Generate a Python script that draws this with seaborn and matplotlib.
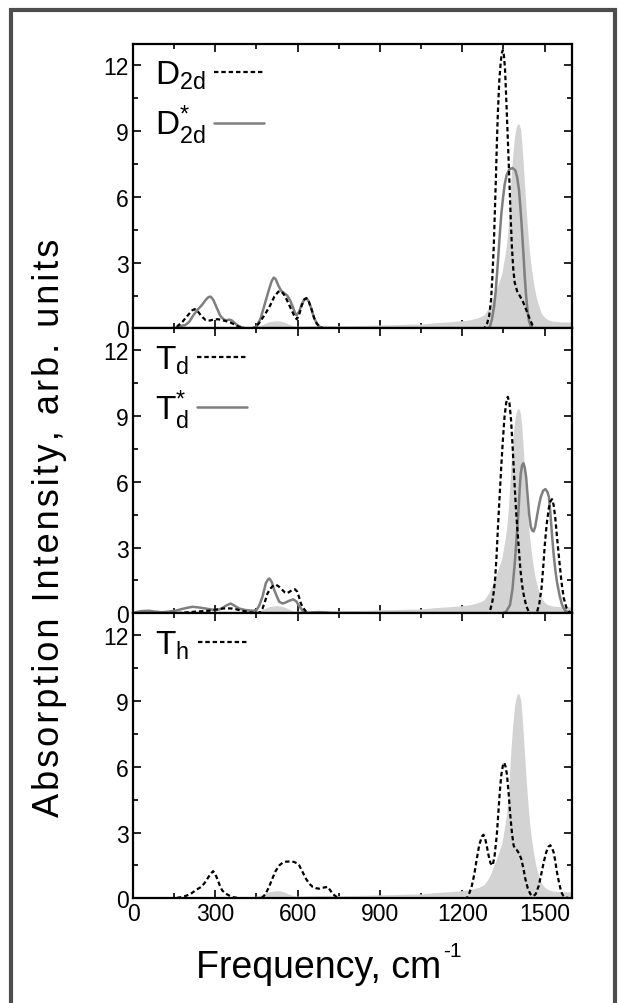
import numpy as np
import pandas as pd
import seaborn as sns
import matplotlib
matplotlib.use("Agg")
import matplotlib.pyplot as plt
from matplotlib.ticker import MultipleLocator
from matplotlib.patches import Rectangle

# ---------------- data ----------------
# experimental spectrum (grey filled), shared by all panels
exp_x = [0, 30, 100, 200, 300, 400, 440, 465, 480, 495, 510, 525, 540, 555, 570, 585, 600,
         650, 700, 750, 800, 850, 900, 950, 1000, 1050, 1100, 1150, 1200, 1230, 1260, 1280,
         1295, 1305, 1315, 1322, 1332, 1344, 1355, 1362, 1367, 1372, 1378, 1384, 1390, 1396,
         1402, 1408, 1413, 1417, 1421, 1427, 1433, 1439, 1445, 1451, 1457, 1463, 1469, 1478,
         1488, 1500, 1512, 1530, 1560, 1600]
exp_y = [0, 0.02, 0.03, 0.04, 0.05, 0.05, 0.07, 0.15, 0.22, 0.30, 0.33, 0.35, 0.33, 0.27, 0.18,
         0.12, 0.10, 0.12, 0.14, 0.12, 0.13, 0.14, 0.16, 0.17, 0.19, 0.20, 0.26, 0.30, 0.35,
         0.40, 0.50, 0.62, 0.90, 1.15, 1.50, 1.70, 2.05, 2.50, 3.30, 3.90, 4.60, 5.60, 6.90,
         7.90, 8.70, 9.15, 9.35, 9.30, 9.05, 8.50, 7.80, 6.60, 5.40, 4.40, 3.50, 2.85, 2.30,
         1.85, 1.45, 1.05, 0.70, 0.50, 0.40, 0.33, 0.30, 0.30]

# panel 1 : D2d (dashed) and D*2d (grey solid)
d2d_x = [0, 140, 160, 180, 200, 215, 225, 235, 250, 265, 280, 295, 310, 325, 340, 355, 370, 385,
         400, 430, 445, 460, 480, 500, 515, 530, 540, 550, 560, 570, 580, 590, 597, 605, 615,
         625, 632, 640, 650, 660, 670, 680, 690, 700, 1280, 1290, 1298, 1305, 1310, 1315, 1319,
         1323, 1326, 1330, 1335, 1340, 1344, 1348, 1352, 1356, 1360, 1364, 1368, 1373, 1377,
         1381, 1386, 1391, 1400, 1410, 1420, 1428, 1437, 1447, 1456, 1465, 1475, 1600]
d2d_y = [0, 0, 0.08, 0.30, 0.60, 0.82, 0.88, 0.80, 0.55, 0.38, 0.36, 0.41, 0.42, 0.38, 0.33, 0.27,
         0.18, 0.08, 0.02, 0, 0.05, 0.25, 0.62, 1.05, 1.45, 1.68, 1.70, 1.55, 1.32, 1.05, 0.78,
         0.52, 0.42, 0.60, 1.05, 1.33, 1.38, 1.25, 0.90, 0.48, 0.22, 0.08, 0.02, 0, 0, 0.20,
         0.56, 1.30, 2.40, 3.80, 5.40, 7.00, 8.40, 9.90, 11.30, 12.10, 12.55, 12.70, 12.45,
         11.80, 10.60, 9.30, 8.00, 6.30, 4.90, 3.70, 2.70, 2.10, 1.70, 1.48, 1.25, 1.02, 0.72,
         0.40, 0.15, 0.03, 0, 0]

d2ds_x = [0, 150, 160, 175, 190, 205, 220, 235, 250, 265, 275, 283, 292, 305, 318, 330, 340, 350,
          358, 368, 380, 395, 410, 440, 450, 465, 480, 495, 505, 513, 520, 530, 540, 552, 562,
          572, 582, 590, 596, 605, 615, 625, 632, 640, 650, 660, 670, 680, 690, 700, 1290, 1300,
          1308, 1316, 1322, 1328, 1333, 1338, 1343, 1349, 1355, 1362, 1371, 1383, 1393, 1400,
          1407, 1412, 1416, 1420, 1424, 1428, 1433, 1438, 1443, 1450, 1460, 1600]
d2ds_y = [0, 0, 0.05, 0.12, 0.15, 0.30, 0.60, 0.85, 1.05, 1.30, 1.43, 1.45, 1.32, 0.95, 0.58,
          0.42, 0.37, 0.40, 0.38, 0.28, 0.15, 0.05, 0, 0, 0.08, 0.45, 1.10, 1.75, 2.15, 2.32,
          2.25, 1.95, 1.72, 1.60, 1.50, 1.30, 1.00, 0.72, 0.60, 0.75, 1.10, 1.33, 1.38, 1.25,
          0.90, 0.48, 0.22, 0.08, 0.02, 0, 0, 0.05, 0.40, 1.00, 1.70, 2.70, 3.60, 4.50, 5.30,
          6.00, 6.60, 7.00, 7.25, 7.32, 7.22, 6.90, 6.30, 5.50, 4.80, 4.00, 3.20, 2.30, 1.45,
          0.80, 0.35, 0.08, 0, 0]

# panel 2 : Td (dashed) and T*d (grey solid)
td_x = [0, 150, 180, 228, 277, 300, 326, 345, 362, 375, 387, 405, 423, 440, 455, 465, 472, 480,
        490, 500, 510, 521, 532, 545, 553, 561, 570, 580, 590, 598, 605, 612, 620, 631, 645, 655,
        1295, 1302, 1310, 1315, 1320, 1325, 1330, 1336, 1342, 1348, 1354, 1360, 1366, 1372, 1378,
        1384, 1390, 1397, 1405, 1412, 1418, 1424, 1433, 1442, 1450, 1457, 1465, 1473, 1481, 1489,
        1495, 1501, 1508, 1516, 1521, 1527, 1533, 1539, 1546, 1554, 1562, 1570, 1580, 1589, 1600]
td_y = [0, 0, 0.03, 0.08, 0.12, 0.17, 0.22, 0.23, 0.22, 0.19, 0.15, 0.10, 0.06, 0.02, 0, 0.08,
        0.22, 0.50, 0.90, 1.12, 1.25, 1.31, 1.22, 1.06, 0.96, 0.92, 0.98, 1.07, 1.10, 1.00, 0.75,
        0.45, 0.25, 0.08, 0.01, 0, 0, 0.15, 0.55, 1.00, 1.60, 2.60, 3.90, 5.30, 6.66, 7.90, 8.95,
        9.60, 9.88, 9.60, 8.80, 7.50, 6.05, 4.50, 3.15, 2.00, 1.30, 0.84, 0.35, 0.08, 0.01, 0,
        0.02, 0.08, 0.45, 1.16, 2.10, 3.15, 4.10, 4.83, 5.10, 5.21, 4.95, 4.37, 3.40, 2.37, 1.40,
        0.69, 0.25, 0.08, 0.01]

tds_x = [0, 9, 30, 57, 80, 106, 130, 155, 185, 216, 240, 265, 290, 302, 320, 340, 356, 370, 387,
         410, 436, 450, 460, 472, 484, 492, 497, 505, 515, 525, 533, 545, 557, 570, 584, 595, 605,
         618, 630, 640, 660, 680, 700, 720, 740, 1348, 1360, 1374, 1383, 1392, 1399, 1405, 1409,
         1413, 1418, 1423, 1428, 1433, 1438, 1444, 1450, 1455, 1460, 1466, 1472, 1478, 1486, 1495,
         1503, 1510, 1516, 1521, 1527, 1533, 1539, 1545, 1555, 1564, 1575, 1589, 1600]
tds_y = [0, 0.05, 0.10, 0.12, 0.08, 0.05, 0.08, 0.12, 0.22, 0.30, 0.27, 0.22, 0.17, 0.15, 0.20,
         0.36, 0.45, 0.35, 0.22, 0.15, 0.12, 0.15, 0.35, 0.76, 1.37, 1.55, 1.59, 1.45, 1.06, 0.75,
         0.53, 0.45, 0.50, 0.58, 0.64, 0.55, 0.35, 0.12, 0.04, 0.02, 0.05, 0.06, 0.04, 0.01, 0,
         0, 0.08, 0.38, 1.10, 2.38, 3.60, 4.68, 5.60, 6.36, 6.75, 6.85, 6.65, 6.20, 5.40, 4.50,
         3.95, 3.78, 3.74, 3.95, 4.40, 4.83, 5.30, 5.60, 5.67, 5.55, 5.30, 4.60, 3.60, 2.70, 2.00,
         1.45, 0.80, 0.38, 0.12, 0.02, 0]

# panel 3 : Th (dashed)
th_x = [0, 143, 160, 175, 190, 210, 230, 247, 260, 271, 282, 292, 300, 307, 316, 325, 337, 350,
        365, 386, 465, 475, 483, 495, 508, 520, 533, 545, 557, 572, 587, 597, 606, 618, 630, 643,
        655, 667, 679, 690, 700, 710, 718, 728, 740, 752, 765, 1216, 1225, 1235, 1244, 1253, 1260,
        1265, 1272, 1277, 1283, 1289, 1296, 1303, 1311, 1318, 1326, 1331, 1336, 1342, 1348, 1353,
        1358, 1363, 1369, 1375, 1381, 1387, 1393, 1399, 1407, 1415, 1423, 1430, 1439, 1448, 1455,
        1460, 1468, 1479, 1488, 1497, 1506, 1514, 1521, 1527, 1533, 1539, 1545, 1553, 1561, 1568,
        1576, 1590, 1600]
th_y = [0, 0, 0.02, 0.05, 0.10, 0.20, 0.38, 0.51, 0.68, 0.89, 1.10, 1.24, 1.10, 0.89, 0.60, 0.36,
        0.22, 0.13, 0.05, 0.01, 0, 0.08, 0.20, 0.50, 0.90, 1.25, 1.50, 1.62, 1.67, 1.68, 1.66,
        1.60, 1.50, 1.20, 0.90, 0.66, 0.52, 0.46, 0.44, 0.48, 0.50, 0.52, 0.38, 0.20, 0.08, 0.01,
        0, 0, 0.20, 0.58, 1.10, 1.80, 2.30, 2.56, 2.82, 2.90, 2.75, 2.41, 1.95, 1.60, 1.50, 1.95,
        2.90, 3.80, 4.71, 5.60, 6.05, 6.19, 6.00, 5.64, 4.80, 3.80, 3.00, 2.42, 2.25, 2.20, 2.05,
        1.80, 1.35, 0.88, 0.45, 0.20, 0.12, 0.10, 0.20, 0.58, 1.10, 1.65, 2.10, 2.35, 2.42, 2.30,
        2.10, 1.70, 1.20, 0.70, 0.28, 0.12, 0.05, 0, 0]

x_ticks = [0, 300, 600, 900, 1200, 1500]
y_ticks = [0, 3, 6, 9, 12]

panels = [
    [(d2d_x, d2d_y, r"D$_{\rm 2d}$", "dash"), (d2ds_x, d2ds_y, r"D$^{*}_{\rm 2d}$", "solid")],
    [(td_x, td_y, r"T$_{\rm d}$", "dash"), (tds_x, tds_y, r"T$^{*}_{\rm d}$", "solid")],
    [(th_x, th_y, r"T$_{\rm h}$", "dash")],
]

# ---------------- style ----------------
sns.set_style("ticks")
plt.rcParams["font.family"] = ["Liberation Sans", "DejaVu Sans"]
plt.rcParams["mathtext.fontset"] = "custom"
plt.rcParams["mathtext.rm"] = "Liberation Sans"
plt.rcParams["mathtext.it"] = "Liberation Sans:italic"
plt.rcParams["mathtext.bf"] = "Liberation Sans:bold"
plt.rcParams["text.color"] = "black"
plt.rcParams["axes.labelcolor"] = "black"

W, H = 621, 1004
fig = plt.figure(figsize=(W / 100, H / 100), dpi=100)
fig.patch.set_facecolor("white")

left, right = 133 / W, 572 / W
top, bottom = 1 - 44.5 / H, 1 - 899.3 / H
gs = fig.add_gridspec(3, 1, left=left, right=right, top=top, bottom=bottom, hspace=0)

fill_col = "#d3d3d3"
grey = "#7f7f7f"

for i, series in enumerate(panels):
    ax = fig.add_subplot(gs[i])
    ax.fill_between(exp_x, exp_y, 0, color=fill_col, lw=0, zorder=1)
    for (xs, ys, lab, kind) in series:
        df = pd.DataFrame({"x": xs, "y": ys})
        if kind == "dash":
            sns.lineplot(data=df, x="x", y="y", ax=ax, color="black", lw=1.6,
                         linestyle=(0, (2.0, 1.3)), label=lab, zorder=3, sort=False)
        else:
            sns.lineplot(data=df, x="x", y="y", ax=ax, color=grey, lw=1.8,
                         linestyle="-", label=lab, zorder=2, sort=False)
    ax.set_xlim(0, 1600)
    ax.set_ylim(0, 13)
    ax.set_xticks(x_ticks)
    ax.set_yticks(y_ticks)
    ax.xaxis.set_minor_locator(MultipleLocator(150))
    ax.yaxis.set_minor_locator(MultipleLocator(1.5))
    ax.tick_params(which="both", direction="in", top=True, right=True, width=1.2,
                   labelsize=16.5, pad=3, colors="black")
    ax.tick_params(which="major", length=5.5)
    ax.tick_params(which="minor", length=3.5)
    for sp in ax.spines.values():
        sp.set_linewidth(1.6)
        sp.set_color("black")
    ax.set_xlabel("")
    ax.set_ylabel("")
    if i < 2:
        ax.tick_params(axis="x", labelbottom=False)
    leg = ax.legend(loc="upper left", bbox_to_anchor=(7 / 439, 1.0), frameon=False,
                    markerfirst=False, fontsize=24, handlelength=1.5, handletextpad=0.25,
                    labelspacing=0.35, borderpad=0.1, borderaxespad=0.35)

hair = "\u200a"
ylab = hair.join("Absorption Intensity, arb. units")
fig.text(50 / W, 1 - 528 / H, ylab, rotation=90, ha="center", va="center", fontsize=26)
fig.text(319 / W, 1 - 978 / H, "Frequency, cm", ha="center", va="baseline", fontsize=27)
fig.text(452 / W, 1 - 952 / H, "-1", ha="center", va="center", fontsize=15)

# outer frame of the figure
fig.add_artist(Rectangle((10.5 / W, -0.05), (615 - 10.5) / W, 1 - 11.3 / H + 0.05,
                         transform=fig.transFigure, fill=False, ec="#4d4d4d", lw=3.0,
                         clip_on=False))

fig.savefig("out.png", dpi=100, facecolor="white")
